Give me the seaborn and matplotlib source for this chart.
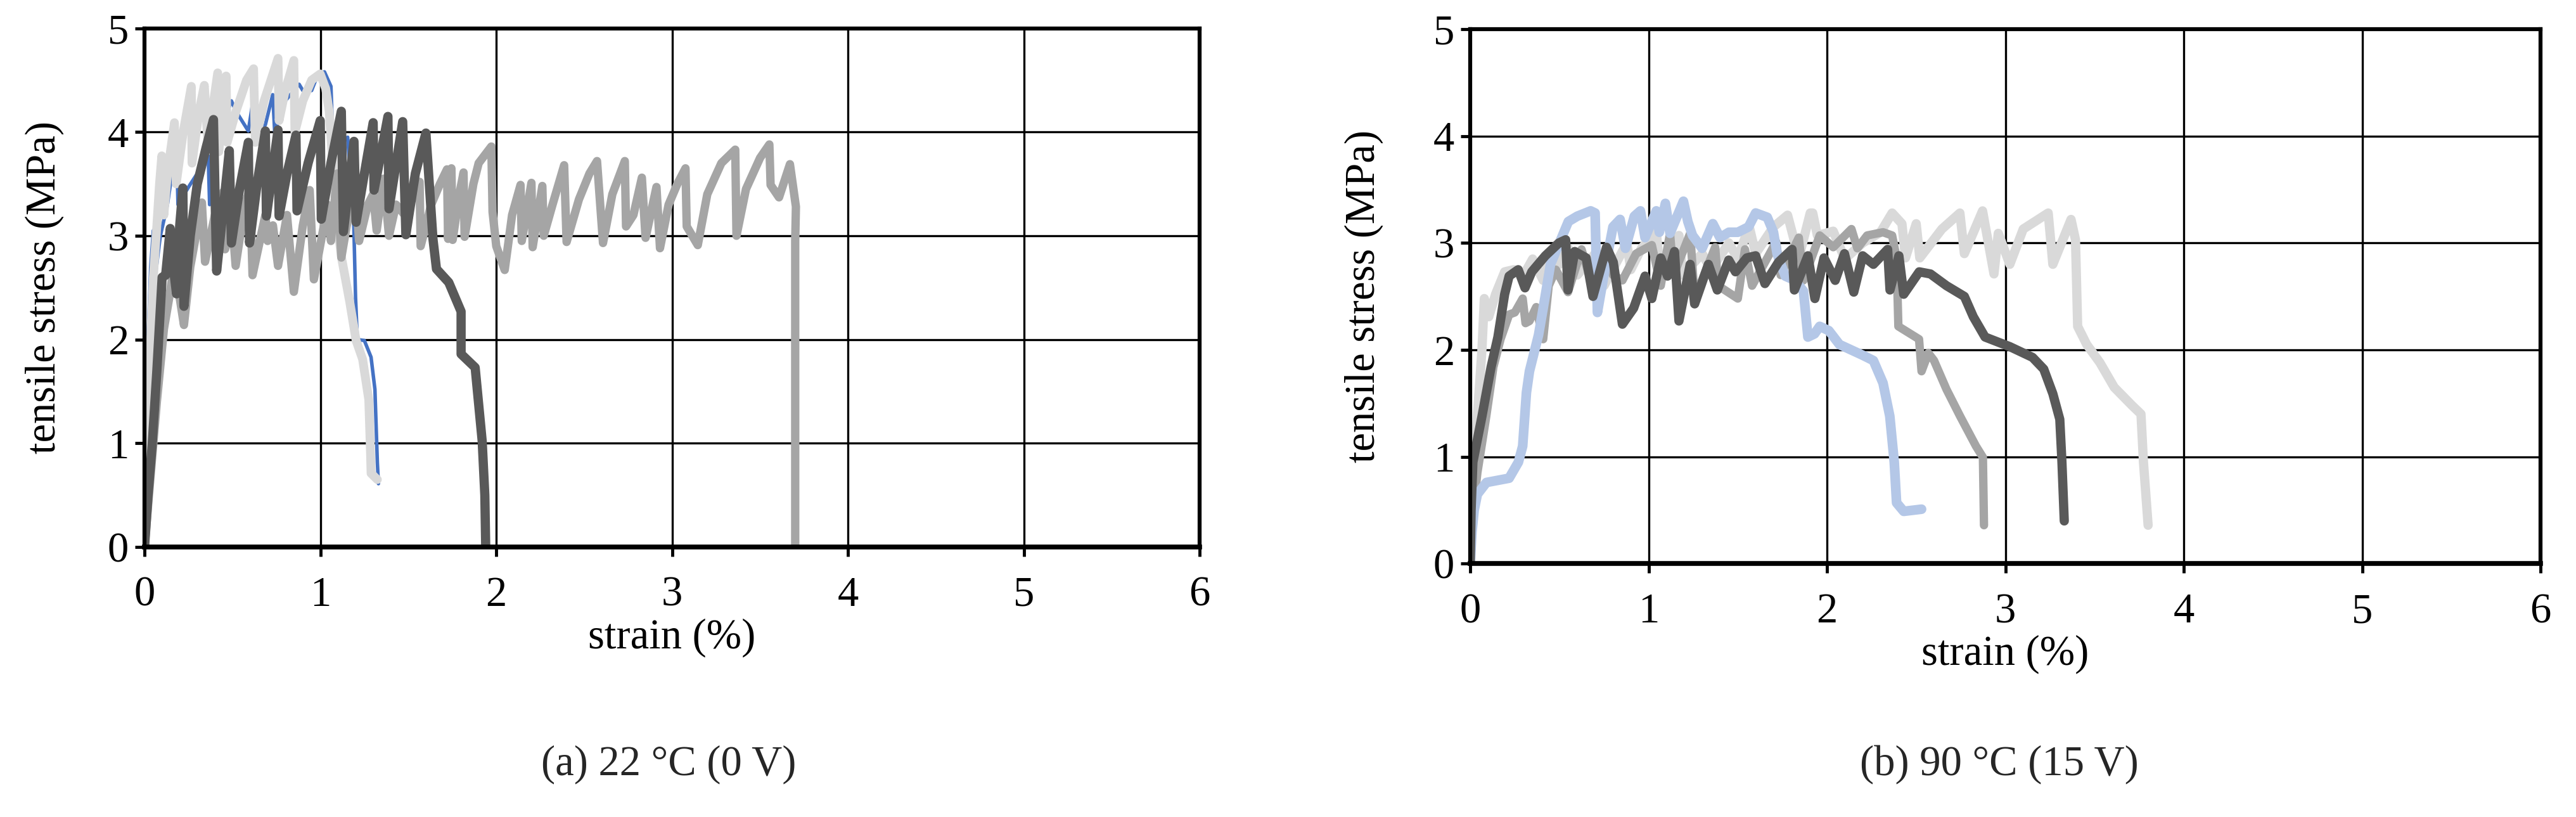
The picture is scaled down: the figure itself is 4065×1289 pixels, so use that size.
import numpy as np
import pandas as pd
import matplotlib
matplotlib.use("Agg")
import matplotlib.pyplot as plt
import seaborn as sns

sns.set_theme(style="white")
plt.rcParams['font.family'] = ['Liberation Serif', 'DejaVu Serif']

# ---------------- Panel (a) 22 °C (0 V) ----------------
a_blue_strain = [0.0, 0.01, 0.02, 0.035, 0.05, 0.06, 0.09, 0.13, 0.182, 0.19, 0.254, 0.30, 0.362, 0.37, 0.43, 0.494,
                 0.52, 0.59, 0.614, 0.63, 0.687, 0.729, 0.74, 0.80, 0.879, 0.90, 0.95, 0.987, 1.023, 1.06, 1.07,
                 1.10, 1.155, 1.17, 1.19, 1.20, 1.21, 1.25, 1.288, 1.31, 1.324, 1.33]
a_blue_stress = [0.0, 1.0, 2.0, 2.7, 3.05, 2.6, 3.0, 3.3, 3.89, 3.3, 3.48, 3.6, 3.77, 3.3, 4.0, 4.30,
                 4.2, 4.01, 4.27, 3.9, 4.07, 4.36, 4.0, 4.3, 4.46, 4.40, 4.40, 4.56, 4.58, 4.44, 3.97,
                 3.85, 3.95, 3.6, 3.09, 2.4, 2.0, 1.99, 1.83, 1.52, 0.81, 0.61]

a_light_strain = [0.0, 0.01, 0.03, 0.05, 0.07, 0.085, 0.098, 0.11, 0.13, 0.17, 0.18, 0.22, 0.266, 0.27, 0.31, 0.34,
                  0.36, 0.416, 0.422, 0.464, 0.47, 0.52, 0.58, 0.62, 0.63, 0.68, 0.759, 0.765, 0.80, 0.849, 0.855,
                  0.90, 0.95, 0.999, 1.03, 1.05, 1.07, 1.09, 1.12, 1.167, 1.203, 1.24, 1.275, 1.285, 1.288, 1.324]
a_light_stress = [0.0, 0.8, 1.8, 2.6, 3.1, 3.5, 3.77, 3.2, 3.6, 4.09, 3.5, 4.0, 4.44, 3.7, 4.2, 4.45,
                  3.9, 4.57, 3.81, 4.54, 3.9, 4.2, 4.5, 4.61, 3.9, 4.3, 4.71, 4.11, 4.4, 4.69, 4.0,
                  4.3, 4.5, 4.56, 4.42, 4.2, 3.7, 3.2, 2.79, 2.36, 1.99, 1.81, 1.42, 0.9, 0.71, 0.65]

a_mid_strain = [0.0, 0.03, 0.07, 0.11, 0.14, 0.17, 0.20, 0.224, 0.26, 0.326, 0.344, 0.40, 0.446, 0.458, 0.50, 0.518,
                0.57, 0.60, 0.614, 0.687, 0.70, 0.73, 0.759, 0.81, 0.849, 0.90, 0.939, 0.963, 1.02, 1.04, 1.06,
                1.095, 1.119, 1.17, 1.20, 1.22, 1.27, 1.30, 1.32, 1.36, 1.39, 1.43, 1.48, 1.53, 1.564, 1.57,
                1.63, 1.68, 1.72, 1.726, 1.745, 1.752, 1.79, 1.814, 1.82, 1.87, 1.90, 1.972, 1.979, 2.0, 2.048,
                2.09, 2.138, 2.145, 2.2, 2.207, 2.262, 2.27, 2.32, 2.386, 2.40, 2.47, 2.53, 2.573, 2.607, 2.66,
                2.731, 2.738, 2.78, 2.828, 2.849, 2.911, 2.931, 2.98, 3.03, 3.076, 3.083, 3.146, 3.20, 3.28,
                3.359, 3.366, 3.42, 3.50, 3.553, 3.56, 3.608, 3.67, 3.704, 3.70, 3.70]
a_mid_stress = [0.0, 0.6, 1.4, 2.1, 2.4, 2.75, 2.4, 2.14, 2.7, 3.32, 2.75, 3.2, 3.42, 2.87, 3.1, 2.71,
                3.3, 3.45, 2.62, 3.2, 2.95, 3.1, 2.71, 3.2, 2.46, 3.1, 3.44, 2.58, 3.1, 3.3, 2.95,
                3.6, 2.79, 3.3, 3.45, 2.95, 3.3, 3.4, 3.05, 3.55, 3.0, 3.3, 3.2, 3.4, 3.52, 2.90,
                3.3, 3.5, 3.64, 2.97, 3.65, 2.96, 3.4, 3.61, 2.99, 3.5, 3.7, 3.86, 3.23, 2.9, 2.67,
                3.2, 3.49, 2.95, 3.51, 2.89, 3.48, 3.0, 3.3, 3.68, 2.94, 3.35, 3.6, 3.72, 2.93, 3.4,
                3.72, 3.09, 3.2, 3.56, 2.98, 3.47, 2.88, 3.3, 3.5, 3.65, 3.09, 2.91, 3.4, 3.7,
                3.83, 3.0, 3.45, 3.75, 3.88, 3.49, 3.37, 3.69, 3.28, 2.95, 0.0]

a_dark_strain = [0.0, 0.02, 0.044, 0.07, 0.09, 0.10, 0.12, 0.146, 0.16, 0.182, 0.20, 0.218, 0.224, 0.26, 0.30, 0.35,
                 0.392, 0.41, 0.45, 0.482, 0.494, 0.54, 0.59, 0.597, 0.64, 0.687, 0.693, 0.759, 0.765, 0.81, 0.861,
                 0.867, 0.93, 0.999, 1.005, 1.06, 1.119, 1.131, 1.191, 1.203, 1.25, 1.30, 1.305, 1.384, 1.39,
                 1.468, 1.486, 1.54, 1.60, 1.64, 1.66, 1.73, 1.80, 1.80, 1.88, 1.92, 1.935, 1.94]
a_dark_stress = [0.0, 0.5, 1.0, 1.7, 2.3, 2.6, 2.62, 3.07, 2.75, 2.44, 3.1, 3.46, 2.32, 3.0, 3.5, 3.85,
                 4.12, 2.66, 3.3, 3.82, 2.93, 3.45, 3.90, 2.93, 3.5, 4.01, 3.19, 4.02, 3.19, 3.6, 3.97,
                 3.24, 3.7, 4.11, 3.16, 3.7, 4.20, 3.04, 3.91, 3.13, 3.6, 4.09, 3.44, 4.15, 3.26,
                 4.10, 3.01, 3.6, 3.99, 2.97, 2.68, 2.55, 2.27, 1.86, 1.73, 1.02, 0.5, 0.0]

# ---------------- Panel (b) 90 °C (15 V) ----------------
b_blue_strain = [0.0, 0.01, 0.022, 0.04, 0.091, 0.218, 0.27, 0.294, 0.315, 0.332, 0.383, 0.41, 0.45, 0.50, 0.55,
                 0.60, 0.675, 0.70, 0.713, 0.76, 0.80, 0.84, 0.87, 0.92, 0.954, 0.98, 1.043, 1.06, 1.094, 1.12,
                 1.195, 1.22, 1.246, 1.30, 1.36, 1.40, 1.45, 1.50, 1.56, 1.60, 1.665, 1.70, 1.72, 1.766, 1.82,
                 1.868, 1.893, 1.93, 1.959, 2.01, 2.07, 2.20, 2.26, 2.314, 2.352, 2.377, 2.39, 2.43, 2.53]
b_blue_stress = [0.0, 0.3, 0.5, 0.65, 0.76, 0.80, 0.95, 1.10, 1.6, 1.80, 2.14, 2.4, 2.8, 3.0, 3.2,
                 3.25, 3.30, 3.28, 2.35, 2.8, 3.15, 3.22, 2.95, 3.25, 3.30, 3.05, 3.30, 3.1, 3.37, 3.09,
                 3.39, 3.2, 3.07, 2.95, 3.18, 3.05, 3.1, 3.1, 3.15, 3.28, 3.24, 3.1, 2.9, 2.69, 2.65,
                 2.55, 2.12, 2.15, 2.22, 2.18, 2.05, 1.95, 1.90, 1.69, 1.38, 0.95, 0.57, 0.49, 0.51]

b_light_strain = [0.0, 0.015, 0.04, 0.066, 0.079, 0.104, 0.142, 0.193, 0.244, 0.30, 0.35, 0.409, 0.45, 0.50, 0.55,
                  0.60, 0.70, 0.75, 0.878, 0.90, 0.96, 1.043, 1.06, 1.17, 1.19, 1.30, 1.35, 1.45, 1.50, 1.563,
                  1.60, 1.70, 1.779, 1.842, 1.906, 1.92, 1.946, 2.035, 2.10, 2.2, 2.3, 2.365, 2.42, 2.44, 2.5,
                  2.52, 2.644, 2.745, 2.77, 2.872, 2.936, 2.96, 3.025, 3.1, 3.24, 3.266, 3.368, 3.393, 3.405,
                  3.456, 3.53, 3.61, 3.71, 3.76, 3.774, 3.8]
b_light_stress = [0.0, 0.74, 1.38, 2.01, 2.48, 2.31, 2.52, 2.73, 2.75, 2.7, 2.85, 2.65, 2.9, 2.8, 2.95,
                  2.7, 2.9, 2.6, 3.0, 2.75, 2.95, 3.11, 2.8, 3.07, 2.7, 2.9, 2.75, 3.0, 2.85, 3.16,
                  2.9, 3.15, 3.26, 2.86, 3.28, 3.28, 3.07, 3.11, 2.85, 3.0, 3.1, 3.28, 3.18, 2.86, 3.18,
                  2.86, 3.13, 3.28, 2.90, 3.30, 2.71, 3.09, 2.80, 3.13, 3.28, 2.80, 3.22, 3.03, 2.22,
                  2.05, 1.88, 1.65, 1.48, 1.40, 0.95, 0.36]

b_mid_strain = [0.0, 0.01, 0.04, 0.09, 0.13, 0.17, 0.218, 0.25, 0.294, 0.31, 0.332, 0.37, 0.409, 0.44, 0.48,
                0.548, 0.624, 0.675, 0.777, 0.80, 0.853, 0.93, 1.018, 1.068, 1.12, 1.14, 1.233, 1.258, 1.373,
                1.39, 1.5, 1.54, 1.58, 1.715, 1.74, 1.842, 1.868, 1.959, 2.035, 2.137, 2.17, 2.225, 2.314,
                2.365, 2.39, 2.40, 2.516, 2.53, 2.568, 2.60, 2.67, 2.746, 2.835, 2.874, 2.88]
b_mid_stress = [0.0, 0.4, 0.85, 1.38, 1.84, 2.1, 2.33, 2.35, 2.48, 2.25, 2.27, 2.4, 2.10, 2.6, 2.75,
                2.54, 2.94, 2.65, 2.94, 2.7, 2.65, 2.9, 2.98, 2.6, 3.09, 2.7, 3.09, 2.48, 2.96,
                2.6, 2.48, 2.94, 2.6, 3.01, 2.7, 3.05, 2.65, 3.07, 2.96, 3.13, 2.95, 3.07, 3.10,
                3.07, 2.86, 2.22, 2.10, 1.80, 1.97, 1.90, 1.63, 1.38, 1.10, 0.995, 0.36]

b_dark_strain = [0.0, 0.005, 0.015, 0.066, 0.117, 0.155, 0.193, 0.218, 0.269, 0.307, 0.345, 0.421, 0.497, 0.535,
                 0.548, 0.586, 0.65, 0.688, 0.764, 0.802, 0.853, 0.916, 0.98, 1.018, 1.068, 1.106, 1.145, 1.17,
                 1.233, 1.258, 1.335, 1.385, 1.449, 1.487, 1.55, 1.6, 1.652, 1.728, 1.804, 1.817, 1.893, 1.932,
                 1.983, 2.046, 2.098, 2.15, 2.2, 2.26, 2.34, 2.353, 2.403, 2.43, 2.517, 2.58, 2.67, 2.77, 2.82,
                 2.886, 3.025, 3.152, 3.215, 3.266, 3.305, 3.317, 3.33]
b_dark_stress = [0.0, 0.5, 0.95, 1.38, 1.84, 2.12, 2.52, 2.69, 2.75, 2.58, 2.73, 2.88, 3.0, 3.03,
                 2.56, 2.92, 2.86, 2.50, 2.96, 2.82, 2.24, 2.39, 2.69, 2.48, 2.86, 2.69, 2.92, 2.27,
                 2.80, 2.43, 2.80, 2.56, 2.84, 2.73, 2.86, 2.88, 2.62, 2.82, 2.94, 2.56, 2.88, 2.48,
                 2.86, 2.65, 2.90, 2.54, 2.88, 2.80, 2.94, 2.56, 2.88, 2.52, 2.73, 2.71, 2.60, 2.50, 2.31,
                 2.12, 2.03, 1.93, 1.82, 1.59, 1.35, 0.95, 0.40]

x_ticks = [0, 1, 2, 3, 4, 5, 6]
y_ticks = [0, 1, 2, 3, 4, 5]
captions = ["(a) 22 °C (0 V)", "(b) 90 °C (15 V)"]

C_BLUE = "#4472C4"
C_LBLUE = "#B4C7E7"
C_LIGHT = "#D9D9D9"
C_MID = "#A5A5A5"
C_DARK = "#595959"

panel_a = [(a_blue_strain, a_blue_stress, C_BLUE, 4.0),
           (a_light_strain, a_light_stress, C_LIGHT, 10.0),
           (a_mid_strain, a_mid_stress, C_MID, 9.5),
           (a_dark_strain, a_dark_stress, C_DARK, 10.5)]
panel_b = [(b_light_strain, b_light_stress, C_LIGHT, 10.5),
           (b_mid_strain, b_mid_stress, C_MID, 9.5),
           (b_blue_strain, b_blue_stress, C_LBLUE, 11.0),
           (b_dark_strain, b_dark_stress, C_DARK, 10.5)]

fig = plt.figure(figsize=(40.66, 12.89), dpi=100)
ax_a = fig.add_axes([0.0561, 0.3305, 0.4095, 0.6349])
ax_b = fig.add_axes([0.5706, 0.3100, 0.4154, 0.6544])

FS = 48

def draw(ax, series, xlab_y, ylab_x):
    for xs, ys, col, lw in series:
        df = pd.DataFrame({"strain": xs, "stress": ys})
        sns.lineplot(data=df, x="strain", y="stress", sort=False, estimator=None,
                     color=col, lw=lw, ax=ax, solid_joinstyle="round", solid_capstyle="round")
    ax.set_xlim(0, 6)
    ax.set_ylim(0, 5)
    ax.set_xticks(x_ticks)
    ax.set_yticks(y_ticks)
    ax.set_axisbelow(True)
    ax.grid(True, color="black", lw=2.4)
    for side, sp in ax.spines.items():
        sp.set_visible(True)
        sp.set_color("black")
        sp.set_linewidth(4.5)
    ax.spines["bottom"].set_linewidth(5.5)
    ax.tick_params(axis="both", which="major", direction="out", bottom=True, left=True,
                   length=11, width=3.5, colors="black", labelsize=FS)
    ax.tick_params(axis="x", pad=22)
    ax.tick_params(axis="y", pad=7)
    ax.set_xlabel("strain (%)", fontsize=FS, color="black")
    ax.set_ylabel("tensile stress (MPa)", fontsize=FS, color="black")
    ax.xaxis.label.set_va("center")
    ax.yaxis.label.set_va("center")
    ax.xaxis.set_label_coords(0.5, xlab_y)
    ax.yaxis.set_label_coords(ylab_x, 0.5)

draw(ax_a, panel_a, -0.1747, -0.0949)
draw(ax_b, panel_b, -0.169, -0.0995)

fig.text(1055 / 4066, 1 - 1206 / 1289, captions[0], ha="center", va="center", fontsize=FS)
fig.text(3155 / 4066, 1 - 1206 / 1289, captions[1], ha="center", va="center", fontsize=FS)

fig.savefig("out.png", dpi=100, facecolor="white")
